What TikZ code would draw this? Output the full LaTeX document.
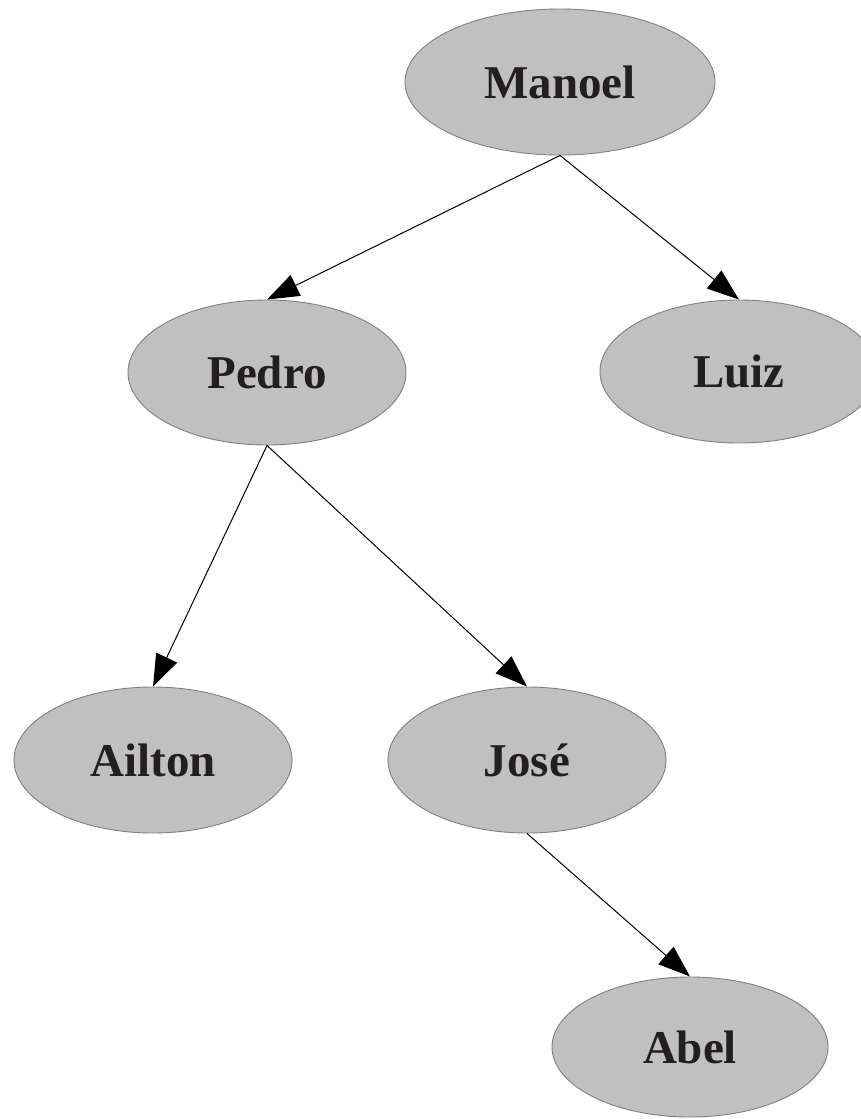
\documentclass[tikz,border=0pt]{standalone}
\usepackage{fontspec}
\setmainfont{Liberation Serif}
\usetikzlibrary{shapes.geometric,arrows.meta}
\definecolor{nodefill}{HTML}{C0C0C0}
\definecolor{nodeline}{HTML}{808080}
\definecolor{txt}{HTML}{231F20}
\tikzset{
  person/.style={ellipse, draw=nodeline, line width=0.9pt, fill=nodefill, inner sep=0pt,
    text=txt, font=\fontsize{47}{50}\selectfont\bfseries},
  link/.style={draw=black, line width=1pt, -{Triangle[length=32pt,width=23pt]}}
}
\begin{document}
\begin{tikzpicture}[x=1pt,y=-1pt]
\useasboundingbox (0,0) rectangle (861,1119);
\clip (0,0) rectangle (861,1119);
\node[person, minimum width=310pt, minimum height=146pt] (manoel) at (560,82) {Manoel};
\node[person, minimum width=278pt, minimum height=145pt] (pedro) at (267,372.5) {Pedro};
\node[person, minimum width=278pt, minimum height=143pt] (luiz) at (739,371.5) {Luiz};
\node[person, minimum width=278pt, minimum height=146pt] (ailton) at (153,760) {Ailton};
\node[person, minimum width=278pt, minimum height=146pt] (jose) at (527,760) {José};
\node[person, minimum width=276pt, minimum height=140pt] (abel) at (690,1047) {Abel};
\draw[link] (manoel.south) -- (pedro.north);
\draw[link] (manoel.south) -- (luiz.north);
\draw[link] (pedro.south) -- (ailton.north);
\draw[link] (pedro.south) -- (jose.north);
\draw[link] (jose.south) -- (abel.north);
\end{tikzpicture}
\end{document}
